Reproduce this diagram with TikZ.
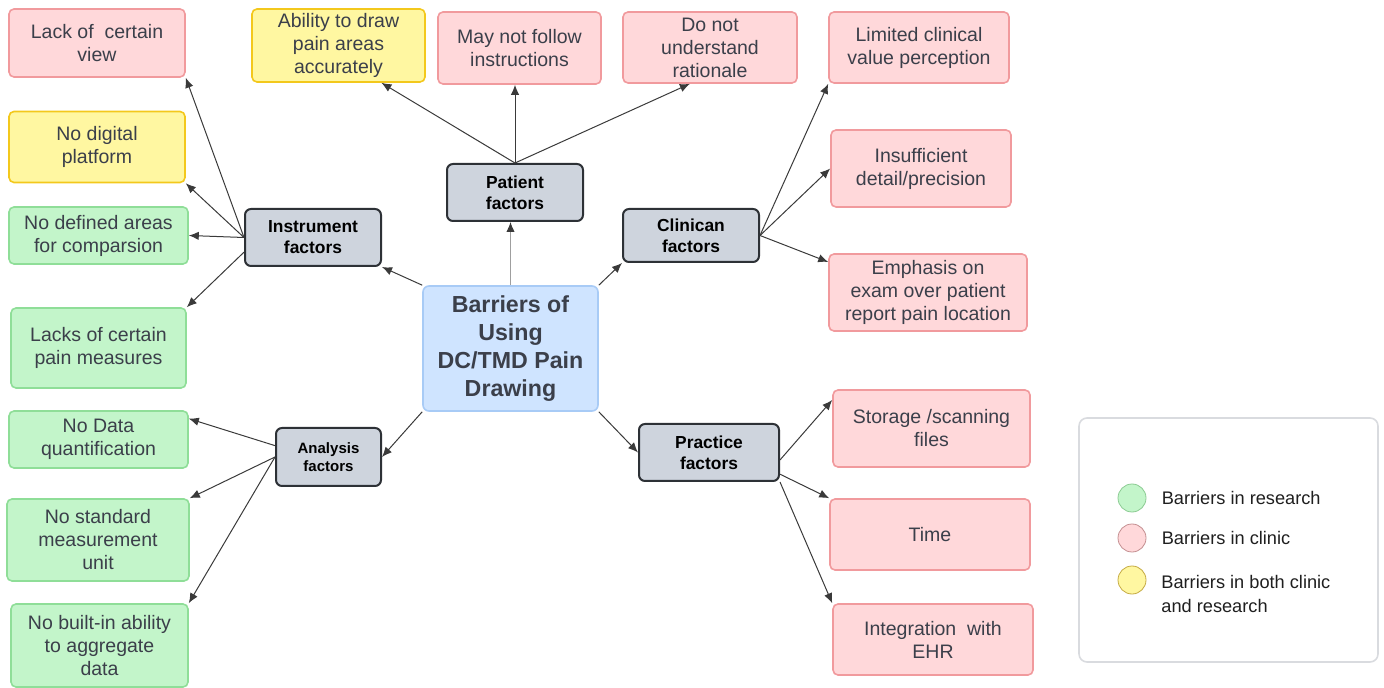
\documentclass[tikz,border=0pt]{standalone}
\usepackage{fontspec}
\setmainfont{Liberation Sans}
\usepackage{tikz}
\usetikzlibrary{positioning, arrows.meta}

\definecolor{clinicfill}{HTML}{FFD8DA}
\definecolor{clinicline}{HTML}{F19A9D}
\definecolor{bothfill}{HTML}{FFF7A1}
\definecolor{bothline}{HTML}{F3C81C}
\definecolor{resfill}{HTML}{C3F5CA}
\definecolor{resline}{HTML}{8FDE98}
\definecolor{factfill}{HTML}{CED4DD}
\definecolor{factline}{HTML}{2D3136}
\definecolor{mainfill}{HTML}{CFE4FF}
\definecolor{mainline}{HTML}{A8CBF6}
\definecolor{inktext}{HTML}{3B3F4A}
\definecolor{arrowink}{HTML}{3A3A3A}
\definecolor{legline}{HTML}{D9DBDF}
\definecolor{legink}{HTML}{1F1F1F}

\begin{document}
\begin{tikzpicture}[
  x=0.5pt, y=-0.5pt,
  leaf/.style={rounded corners=2.5pt, align=center, line width=0.8pt, text=inktext, inner sep=2pt,
    font=\fontsize{9.75}{11.5}\selectfont},
  clinic/.style={leaf, fill=clinicfill, draw=clinicline},
  both/.style={leaf, fill=bothfill, draw=bothline},
  research/.style={leaf, fill=resfill, draw=resline},
  factor/.style={draw=factline, fill=factfill, rounded corners=3pt, line width=1pt, align=center,
    font=\fontsize{8.7}{10.4}\selectfont\bfseries, minimum width=68pt, minimum height=28.5pt},
  legdot/.style={circle, minimum size=14pt, inner sep=0pt, line width=0.4pt},
  legtext/.style={inner sep=0pt, align=left, text=legink, font=\fontsize{9.1}{12}\selectfont},
  ar/.style={-{Latex[length=5pt, width=4.2pt]}, draw=arrowink, line width=0.5pt},
  greyar/.style={-{Latex[length=5pt, width=4.2pt, color=arrowink]}, draw=gray!75, line width=0.5pt}
]
  \useasboundingbox (0,0) rectangle (1384,688);

  \node[draw=mainline, fill=mainfill, rounded corners=3pt, line width=0.8pt, align=center, text=inktext,
    font=\fontsize{11.6}{14}\selectfont\bfseries, minimum width=87.5pt, minimum height=62.5pt]
    (central) at (510.5,348.5) {Barriers of\\Using\\DC/TMD Pain\\Drawing};

  \node[factor] (patient) at (515,192.5) {Patient\\factors};
  \node[factor] (instrument) at (313,237.5) {Instrument\\factors};
  \node[factor, minimum height=26.5pt] (clinican) at (691,235.5) {Clinican\\factors};
  \node[factor, minimum width=52.5pt, minimum height=29pt, font=\fontsize{7.5}{9.2}\selectfont\bfseries]
    (analysis) at (328.5,457) {Analysis\\factors};
  \node[factor, minimum width=70pt] (practice) at (709,452.5) {Practice\\factors};

  \node[clinic, minimum width=88pt, minimum height=34pt] (lackview) at (97,43) {Lack of\ \ certain\\view};
  \node[both, minimum width=88pt, minimum height=35.5pt] (nodigital) at (97,147) {No digital\\platform};
  \node[research, minimum width=89.5pt, minimum height=28.5pt] (noareas) at (98.5,235.5) {No defined areas\\for comparsion};
  \node[research, minimum width=87.5pt, minimum height=40pt] (lackmeasure) at (98.5,348) {Lacks of certain\\pain measures};
  \node[research, minimum width=89.5pt, minimum height=28.5pt] (nodata) at (98.5,439.5) {No Data\\quantification};
  \node[research, minimum width=91pt, minimum height=41pt] (nounit) at (98,540) {No standard\\measurement\\unit};
  \node[research, minimum width=88.5pt, minimum height=41.5pt] (noaggregate) at (99.5,645.5) {No built-in ability\\to aggregate\\data};

  \node[both, minimum width=86.5pt, minimum height=36.5pt] (drawability) at (338.5,45.5) {Ability to draw\\pain areas\\accurately};
  \node[clinic, minimum width=81.5pt, minimum height=36pt] (nofollow) at (519.5,48) {May not follow\\instructions};
  \node[clinic, minimum width=87pt, minimum height=35.5pt] (norationale) at (710,47.5) {Do not\\understand\\rationale};

  \node[clinic, minimum width=90pt, minimum height=35.5pt] (limitedvalue) at (919,47.5) {Limited clinical\\value perception};
  \node[clinic, minimum width=90pt, minimum height=38.5pt] (insufficient) at (921,168.5) {Insufficient\\detail/precision};
  \node[clinic, minimum width=99pt, minimum height=38.5pt] (emphasis) at (928,292.5) {Emphasis on\\exam over patient\\report pain location};

  \node[clinic, minimum width=98.5pt, minimum height=38.5pt] (storage) at (931.5,428.5) {Storage /scanning\\files};
  \node[clinic, minimum width=100pt, minimum height=35.5pt] (time) at (930,534.5) {Time};
  \node[clinic, minimum width=100pt, minimum height=35.5pt] (ehr) at (933,639.5) {Integration\ \ with\\EHR};

  \draw[greyar] (central.north) -- (central.north |- patient.south);
  \draw[ar] (central.north west) -- (instrument.south east);
  \draw[ar] (central.north east) -- (clinican.south west);
  \draw[ar] (central.south west) -- (analysis.east);
  \draw[ar] (central.south east) -- (practice.west);

  \draw[ar] (patient.north) -- (drawability.-41);
  \draw[ar] (patient.north) -- (patient.north |- nofollow.south);
  \draw[ar] (patient.north) -- (norationale.-119);

  \draw[ar] (instrument.west) -- (lackview.south east);
  \draw[ar] (instrument.west) -- (nodigital.south east);
  \draw[ar] (instrument.west) -- (noareas.east);
  \draw[ar] (instrument.192) -- (lackmeasure.north east);

  \draw[ar] (clinican.east) -- (limitedvalue.south west);
  \draw[ar] (clinican.east) -- (insufficient.west);
  \draw[ar] (clinican.east) -- (emphasis.163);

  \draw[ar] (analysis.168) -- (nodata.13);
  \draw[ar] (analysis.west) -- (nounit.north east);
  \draw[ar] (analysis.west) -- (noaggregate.north east);

  \draw[ar] (practice.-6) -- (storage.164);
  \draw[ar] (practice.-17) -- (time.north west);
  \draw[ar] (practice.south east) -- (ehr.north west);

  \node[draw=legline, fill=white, rounded corners=4pt, line width=0.8pt,
    minimum width=149.5pt, minimum height=122pt] (legend) at (1228.5,540) {};
  \node[legdot, fill=resfill, draw=resline!80!gray] (dotres) at (1132,498) {};
  \node[legtext, right=7.5pt of dotres] (txtres) {Barriers in research};
  \node[legdot, fill=clinicfill, draw=clinicline!60!gray] (dotclinic) at (1132,538) {};
  \node[legtext, right=7.5pt of dotclinic] (txtclinic) {Barriers in clinic};
  \node[legdot, fill=bothfill, draw=bothline!60!gray] (dotboth) at (1132,580) {};
  \node[legtext, anchor=west] (txtboth) at (1161,594) {Barriers in both clinic\\and research};
\end{tikzpicture}
\end{document}
